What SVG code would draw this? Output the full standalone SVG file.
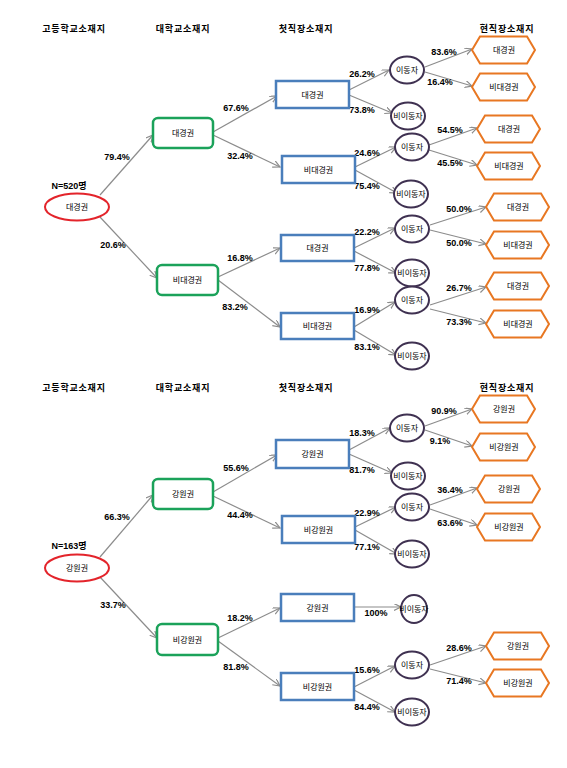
<svg xmlns="http://www.w3.org/2000/svg" xmlns:xlink="http://www.w3.org/1999/xlink" width="567" height="768" viewBox="0 0 567 768">
<style>
text{font-family:"Liberation Sans","Noto Sans CJK KR",sans-serif;fill:#000;text-anchor:middle}
.hd{font-size:9px;font-weight:bold;letter-spacing:0.8px}
.pc{font-size:9px;font-weight:bold}
.nl{font-size:8px}
.n{font-size:9px;font-weight:bold}
.red{fill:#fff;stroke:#E3242B;stroke-width:2}
.grn{fill:#fff;stroke:#1BA25A;stroke-width:2.5}
.blu{fill:#fff;stroke:#4A7EBB;stroke-width:2.5}
.pur{fill:#fff;stroke:#3F3151;stroke-width:2}
.hex{fill:#fff;stroke:#E87722;stroke-width:2}
#edges line{stroke:#8C8C8C;stroke-width:1.2;marker-end:url(#ah)}
</style>
<defs>
<marker id="ah" markerUnits="userSpaceOnUse" markerWidth="9" markerHeight="9" refX="7" refY="3.5" orient="auto">
<path d="M0,0 L7,3.5 L0,7" fill="none" stroke="#8C8C8C" stroke-width="1.2"/>
</marker>
<polygon id="hx" class="hex" points="0,0 8,-13.5 55,-13.5 63,0 55,13.5 8,13.5"/>
</defs>
<rect width="567" height="768" fill="#fff"/>

<g id="headers">
<text class="hd" x="74" y="32">고등학교소재지</text>
<text class="hd" x="183" y="32">대학교소재지</text>
<text class="hd" x="306" y="32">첫직장소재지</text>
<text class="hd" x="507" y="32">현직장소재지</text>
<text class="hd" x="74" y="391">고등학교소재지</text>
<text class="hd" x="183" y="391">대학교소재지</text>
<text class="hd" x="306" y="391">첫직장소재지</text>
<text class="hd" x="507" y="391">현직장소재지</text>
</g>

<g id="edges">
<line x1="100" y1="195" x2="153" y2="135"/>
<line x1="100" y1="217" x2="157" y2="278"/>
<line x1="213" y1="132" x2="277" y2="96"/>
<line x1="213" y1="135" x2="280" y2="167"/>
<line x1="218" y1="277" x2="280" y2="248"/>
<line x1="218" y1="280" x2="280" y2="327"/>
<line x1="349" y1="90" x2="389" y2="70"/>
<line x1="349" y1="95" x2="392" y2="113"/>
<line x1="355" y1="167" x2="396" y2="147"/>
<line x1="355" y1="170" x2="397" y2="193"/>
<line x1="425" y1="67" x2="472" y2="49"/>
<line x1="425" y1="72" x2="472" y2="86"/>
<line x1="429" y1="145" x2="477" y2="128"/>
<line x1="429" y1="150" x2="477" y2="165"/>
<line x1="354" y1="248" x2="395" y2="228"/>
<line x1="354" y1="251" x2="396" y2="273"/>
<line x1="430" y1="225" x2="486" y2="207"/>
<line x1="430" y1="230" x2="486" y2="244"/>
<line x1="354" y1="327" x2="395" y2="302"/>
<line x1="354" y1="330" x2="396" y2="355"/>
<line x1="430" y1="305" x2="486" y2="287"/>
<line x1="430" y1="309" x2="486" y2="323"/>

<line x1="100" y1="557" x2="153" y2="495"/>
<line x1="100" y1="577" x2="157" y2="638"/>
<line x1="213" y1="492" x2="277" y2="455"/>
<line x1="213" y1="496" x2="280" y2="528"/>
<line x1="218" y1="638" x2="280" y2="608"/>
<line x1="218" y1="641" x2="280" y2="686"/>
<line x1="349" y1="450" x2="390" y2="428"/>
<line x1="349" y1="454" x2="392" y2="473"/>
<line x1="355" y1="527" x2="396" y2="507"/>
<line x1="355" y1="530" x2="397" y2="554"/>
<line x1="425" y1="426" x2="472" y2="409"/>
<line x1="425" y1="430" x2="472" y2="446"/>
<line x1="430" y1="505" x2="477" y2="488"/>
<line x1="430" y1="509" x2="477" y2="525"/>
<line x1="354" y1="607" x2="401" y2="607"/>
<line x1="354" y1="687" x2="395" y2="666"/>
<line x1="354" y1="690" x2="395" y2="712"/>
<line x1="430" y1="665" x2="486" y2="646"/>
<line x1="430" y1="669" x2="486" y2="683"/>
</g>

<g id="labels">
<text class="pc" x="117" y="160">79.4%</text>
<text class="pc" x="113" y="248">20.6%</text>
<text class="pc" x="236" y="111">67.6%</text>
<text class="pc" x="240" y="159">32.4%</text>
<text class="pc" x="240" y="261">16.8%</text>
<text class="pc" x="235" y="310">83.2%</text>
<text class="pc" x="362" y="77">26.2%</text>
<text class="pc" x="362" y="113">73.8%</text>
<text class="pc" x="367" y="156">24.6%</text>
<text class="pc" x="367" y="189">75.4%</text>
<text class="pc" x="444" y="55">83.6%</text>
<text class="pc" x="440" y="85">16.4%</text>
<text class="pc" x="450" y="133">54.5%</text>
<text class="pc" x="450" y="166">45.5%</text>
<text class="pc" x="367" y="235">22.2%</text>
<text class="pc" x="367" y="271">77.8%</text>
<text class="pc" x="459" y="212">50.0%</text>
<text class="pc" x="459" y="246">50.0%</text>
<text class="pc" x="367" y="313">16.9%</text>
<text class="pc" x="367" y="350">83.1%</text>
<text class="pc" x="459" y="291">26.7%</text>
<text class="pc" x="459" y="325">73.3%</text>

<text class="pc" x="117" y="520">66.3%</text>
<text class="pc" x="113" y="608">33.7%</text>
<text class="pc" x="236" y="471">55.6%</text>
<text class="pc" x="240" y="518">44.4%</text>
<text class="pc" x="240" y="621">18.2%</text>
<text class="pc" x="236" y="670">81.8%</text>
<text class="pc" x="362" y="436">18.3%</text>
<text class="pc" x="362" y="473">81.7%</text>
<text class="pc" x="367" y="516">22.9%</text>
<text class="pc" x="367" y="550">77.1%</text>
<text class="pc" x="444" y="414">90.9%</text>
<text class="pc" x="440" y="444">9.1%</text>
<text class="pc" x="450" y="493">36.4%</text>
<text class="pc" x="450" y="526">63.6%</text>
<text class="pc" x="376" y="616">100%</text>
<text class="pc" x="367" y="673">15.6%</text>
<text class="pc" x="367" y="710">84.4%</text>
<text class="pc" x="459" y="651">28.6%</text>
<text class="pc" x="459" y="684">71.4%</text>
</g>

<!-- Top tree -->
<g id="t-root"><text class="n" x="69" y="189">N=520명</text><ellipse class="red" cx="77" cy="207" rx="32" ry="13.5"/><text class="nl" x="77" y="210">대경권</text></g>
<g id="t-u1"><rect class="grn" x="153" y="118" width="60" height="30" rx="5"/><text class="nl" x="183" y="136">대경권</text></g>
<g id="t-u2"><rect class="grn" x="157" y="265" width="61" height="30" rx="5"/><text class="nl" x="187.5" y="283">비대경권</text></g>
<g id="t-f1"><rect class="blu" x="276" y="81" width="73" height="27"/><text class="nl" x="312.5" y="97.5">대경권</text></g>
<g id="t-f2"><rect class="blu" x="282" y="156" width="73" height="27"/><text class="nl" x="318.5" y="172.5">비대경권</text></g>
<g id="t-f3"><rect class="blu" x="281" y="235" width="73" height="26"/><text class="nl" x="317.5" y="251">대경권</text></g>
<g id="t-f4"><rect class="blu" x="281" y="313" width="73" height="26"/><text class="nl" x="317.5" y="329">비대경권</text></g>
<g id="t-m1"><ellipse class="pur" cx="407" cy="70" rx="17" ry="13.5"/><text class="nl" x="407" y="73">이동자</text></g>
<g id="t-s1"><ellipse class="pur" cx="408" cy="116" rx="17" ry="13.5"/><text class="nl" x="408" y="119">비이동자</text></g>
<g id="t-m2"><ellipse class="pur" cx="412" cy="147" rx="17" ry="13.5"/><text class="nl" x="412" y="150">이동자</text></g>
<g id="t-s2"><ellipse class="pur" cx="411" cy="194" rx="17" ry="13.5"/><text class="nl" x="411" y="197">비이동자</text></g>
<g id="t-m3"><ellipse class="pur" cx="412" cy="229" rx="17" ry="13.5"/><text class="nl" x="412" y="232">이동자</text></g>
<g id="t-s3"><ellipse class="pur" cx="412" cy="273" rx="17" ry="13.5"/><text class="nl" x="412" y="276">비이동자</text></g>
<g id="t-m4"><ellipse class="pur" cx="412" cy="300" rx="17" ry="13.5"/><text class="nl" x="412" y="303">이동자</text></g>
<g id="t-s4"><ellipse class="pur" cx="412" cy="356" rx="17" ry="13.5"/><text class="nl" x="412" y="359">비이동자</text></g>
<g id="t-c1"><use xlink:href="#hx" x="472" y="50"/><text class="nl" x="504" y="53">대경권</text></g>
<g id="t-c2"><use xlink:href="#hx" x="472" y="87"/><text class="nl" x="504" y="90">비대경권</text></g>
<g id="t-c3"><use xlink:href="#hx" x="477" y="129"/><text class="nl" x="509" y="132">대경권</text></g>
<g id="t-c4"><use xlink:href="#hx" x="477" y="166"/><text class="nl" x="509" y="169">비대경권</text></g>
<g id="t-c5"><use xlink:href="#hx" x="486" y="207"/><text class="nl" x="518" y="210">대경권</text></g>
<g id="t-c6"><use xlink:href="#hx" x="486" y="245"/><text class="nl" x="518" y="248">비대경권</text></g>
<g id="t-c7"><use xlink:href="#hx" x="486" y="286"/><text class="nl" x="518" y="289">대경권</text></g>
<g id="t-c8"><use xlink:href="#hx" x="486" y="324"/><text class="nl" x="518" y="327">비대경권</text></g>

<!-- Bottom tree -->
<g id="b-root"><text class="n" x="69" y="549">N=163명</text><ellipse class="red" cx="77" cy="568" rx="32" ry="13.5"/><text class="nl" x="77" y="571">강원권</text></g>
<g id="b-u1"><rect class="grn" x="153" y="479" width="60" height="30" rx="5"/><text class="nl" x="183" y="497">강원권</text></g>
<g id="b-u2"><rect class="grn" x="157" y="624" width="61" height="31" rx="5"/><text class="nl" x="187.5" y="642.5">비강원권</text></g>
<g id="b-f1"><rect class="blu" x="276" y="440" width="73" height="28"/><text class="nl" x="312.5" y="457">강원권</text></g>
<g id="b-f2"><rect class="blu" x="282" y="516" width="73" height="27"/><text class="nl" x="318.5" y="532.5">비강원권</text></g>
<g id="b-f3"><rect class="blu" x="281" y="594" width="73" height="27"/><text class="nl" x="317.5" y="610.5">강원권</text></g>
<g id="b-f4"><rect class="blu" x="281" y="673" width="73" height="27"/><text class="nl" x="317.5" y="689.5">비강원권</text></g>
<g id="b-m1"><ellipse class="pur" cx="407" cy="428" rx="17" ry="13.5"/><text class="nl" x="407" y="431">이동자</text></g>
<g id="b-s1"><ellipse class="pur" cx="408" cy="476" rx="17" ry="13.5"/><text class="nl" x="408" y="479">비이동자</text></g>
<g id="b-m2"><ellipse class="pur" cx="412" cy="507" rx="17" ry="13.5"/><text class="nl" x="412" y="510">이동자</text></g>
<g id="b-s2"><ellipse class="pur" cx="412" cy="554" rx="17" ry="13.5"/><text class="nl" x="412" y="557">비이동자</text></g>
<g id="b-s3"><ellipse class="pur" cx="414" cy="609" rx="13" ry="14"/><text class="nl" x="414" y="612">비이동자</text></g>
<g id="b-m4"><ellipse class="pur" cx="412" cy="665" rx="17" ry="13.5"/><text class="nl" x="412" y="668">이동자</text></g>
<g id="b-s4"><ellipse class="pur" cx="412" cy="712" rx="17" ry="13.5"/><text class="nl" x="412" y="715">비이동자</text></g>
<g id="b-c1"><use xlink:href="#hx" x="472" y="409"/><text class="nl" x="504" y="412">강원권</text></g>
<g id="b-c2"><use xlink:href="#hx" x="472" y="447"/><text class="nl" x="504" y="450">비강원권</text></g>
<g id="b-c3"><use xlink:href="#hx" x="477" y="489"/><text class="nl" x="509" y="492">강원권</text></g>
<g id="b-c4"><use xlink:href="#hx" x="477" y="527"/><text class="nl" x="509" y="530">비강원권</text></g>
<g id="b-c5"><use xlink:href="#hx" x="486" y="646"/><text class="nl" x="518" y="649">강원권</text></g>
<g id="b-c6"><use xlink:href="#hx" x="486" y="683"/><text class="nl" x="518" y="686">비강원권</text></g>
</svg>
